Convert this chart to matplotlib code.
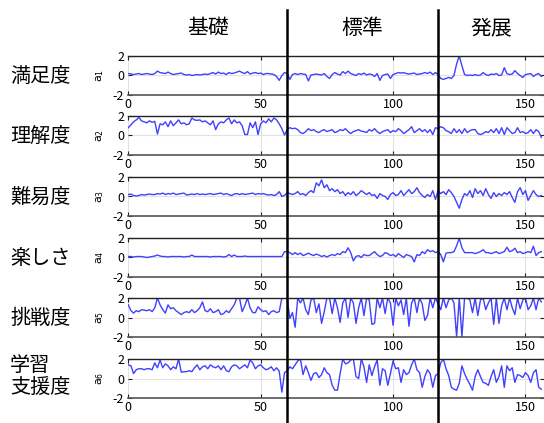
import numpy as np
import matplotlib
matplotlib.use("Agg")
import matplotlib.pyplot as plt
from matplotlib.lines import Line2D

plt.rcParams['font.family'] = ['Noto Sans CJK JP', 'DejaVu Sans']
plt.rcParams['axes.unicode_minus'] = False

row_labels = ["満足度", "理解度", "難易度", "楽しさ", "挑戦度", "学習\n支援度"]
sections = ["基礎", "標準", "発展"]
section_bounds = [60, 117]
xticks = [0, 50, 100, 150]
yticks = [-2, 0, 2]

a1 = [0.20,0.15,0.10,0.15,0.20,0.10,0.15,0.20,0.15,0.10,
      0.20,0.45,0.30,0.25,0.20,0.35,0.20,0.10,0.15,0.20,
      0.25,0.10,0.05,0.10,0.00,0.05,0.10,0.05,0.10,0.15,
      0.10,0.20,0.30,0.15,0.35,0.20,0.25,0.10,0.30,0.20,
      0.25,0.35,0.45,0.30,0.20,0.40,0.15,0.25,0.30,0.20,
      0.25,0.10,0.20,0.20,0.15,0.10,-0.10,-0.50,0.00,0.30,
      0.20,-0.40,0.10,0.20,0.10,0.20,0.15,0.10,-0.55,0.05,
      0.10,0.15,0.10,0.05,0.20,-0.10,-0.30,0.10,0.30,0.15,
      0.05,0.40,0.20,0.45,0.20,0.10,0.00,0.20,0.10,0.25,
      0.05,0.15,0.10,-0.10,0.20,-0.50,0.00,0.10,0.15,-0.30,
      0.10,0.20,0.30,0.25,0.30,0.20,0.15,0.20,0.25,0.10,
      0.15,0.20,0.30,0.20,0.35,0.10,0.30,
      0.10,-0.30,-0.40,-0.30,-0.20,-0.30,0.00,1.20,2.00,1.00,
      0.10,0.00,0.05,0.00,0.10,0.00,0.05,0.30,0.10,0.00,
      0.15,0.10,0.20,0.00,0.05,0.80,0.20,0.10,0.15,0.50,
      0.20,0.00,-0.20,0.10,0.15,0.20,-0.10,0.10,0.20,-0.10]

a2 = [0.80,1.10,1.40,1.60,1.85,1.50,1.40,1.30,1.50,1.35,
      1.45,0.15,1.20,1.10,1.40,0.90,1.50,1.00,1.30,1.60,
      1.20,1.30,1.10,1.20,1.80,1.60,1.55,1.60,1.40,1.50,
      1.30,1.10,1.50,0.60,1.20,1.40,1.30,1.60,1.80,1.20,
      1.60,1.30,1.40,1.00,0.10,0.10,1.30,0.80,1.40,0.10,
      1.20,1.50,1.30,1.70,1.40,1.80,1.60,1.20,0.70,0.05,
      0.60,0.80,0.70,0.75,0.60,0.30,0.20,0.40,0.70,0.50,
      0.60,0.40,0.30,0.50,0.60,0.40,0.50,0.60,0.30,0.40,
      0.60,0.50,0.70,0.40,0.20,0.40,0.50,0.60,0.45,0.40,
      0.30,0.60,0.45,0.70,0.40,0.20,0.40,0.50,0.60,0.30,
      0.50,0.40,0.70,0.50,0.20,0.40,0.60,0.90,0.30,0.50,
      0.70,0.40,0.60,0.30,0.60,0.10,0.80,
      0.70,0.90,0.80,0.50,0.40,0.20,0.70,0.30,0.60,0.20,
      0.70,0.30,0.50,0.60,0.60,0.20,0.10,0.20,0.40,0.30,
      0.60,0.30,0.70,0.20,0.80,0.10,0.80,0.50,0.20,0.30,
      0.80,0.30,0.40,0.20,0.30,0.60,0.20,0.60,0.40,-0.20]

a3 = [0.20,0.25,0.10,0.05,0.10,0.20,0.15,0.20,0.25,0.20,
      0.20,0.30,0.25,0.35,0.20,0.30,0.25,0.35,0.20,0.25,
      0.30,0.35,0.15,0.20,0.25,0.20,0.30,0.20,0.25,0.20,
      0.25,0.30,0.20,0.25,0.30,0.35,0.20,0.30,0.20,0.10,
      0.25,0.30,0.20,0.30,0.20,0.25,0.30,0.35,0.20,0.30,
      0.25,0.30,0.20,0.15,0.20,0.10,0.20,0.50,0.00,0.10,
      0.40,0.30,0.20,0.30,0.50,0.20,0.30,0.10,0.40,0.60,
      0.40,1.40,1.10,1.70,0.90,1.20,0.60,0.80,0.50,0.70,
      0.30,0.50,0.10,0.40,0.20,0.50,0.10,0.30,0.60,0.40,
      0.20,0.40,0.10,0.20,-0.20,0.30,0.10,0.00,-0.30,0.20,
      0.40,0.10,0.20,0.60,0.10,0.40,0.70,0.30,0.50,0.90,
      0.40,0.10,-0.10,0.20,0.00,0.60,-0.30,
      0.60,0.30,0.50,0.20,0.70,0.40,0.00,-0.60,-1.20,-0.30,
      0.30,0.10,0.60,-0.10,0.80,0.30,0.60,0.10,0.80,0.20,
      -0.20,0.40,0.00,0.30,0.10,0.40,0.20,0.50,-0.10,-0.60,
      0.50,0.90,0.20,0.60,-0.40,0.10,0.60,0.20,0.00,0.10]

a4 = [0.10,0.10,0.05,0.10,0.10,0.10,0.05,0.00,0.05,0.10,
      0.15,0.25,0.15,0.10,0.10,0.05,0.10,0.10,0.10,0.10,
      0.10,0.05,0.10,0.10,0.25,0.10,0.10,0.10,0.10,0.10,
      0.10,0.05,0.10,0.10,0.10,0.10,0.05,0.10,0.30,0.10,
      0.25,0.10,0.10,0.10,0.15,0.10,0.10,0.10,0.10,0.10,
      0.10,0.10,0.10,0.10,0.10,0.10,0.10,0.10,0.10,0.60,
      0.60,0.50,0.30,0.50,0.30,0.45,0.20,0.30,0.45,0.30,
      0.20,0.35,0.25,0.10,0.20,0.05,0.20,0.30,0.20,0.40,
      0.30,0.60,0.50,1.00,0.50,-0.35,0.10,0.20,0.00,0.30,
      0.20,0.20,0.40,0.60,0.30,0.10,0.20,0.50,0.40,0.20,
      0.30,0.10,0.40,0.20,0.00,0.30,0.20,0.10,-0.45,0.30,
      0.20,0.60,0.40,0.80,0.60,0.70,0.50,
      0.60,0.30,-0.45,0.45,0.50,0.50,0.60,1.20,2.00,1.00,
      0.50,0.50,0.50,0.50,0.40,0.50,0.60,0.80,0.50,0.50,
      0.40,0.50,0.60,0.40,0.50,0.60,1.05,0.60,0.70,0.95,
      0.50,0.60,0.40,0.50,0.60,0.50,1.15,0.20,0.50,0.60]

a5 = [1.30,0.70,0.45,0.70,0.60,0.80,0.75,0.70,0.80,0.60,
      1.00,2.00,1.30,0.80,0.45,1.30,0.90,1.00,0.70,0.50,
      0.30,0.50,0.60,0.50,0.80,0.50,0.70,1.00,1.60,0.70,
      0.60,0.90,0.50,0.60,0.80,0.30,0.40,0.70,0.50,0.90,
      1.30,2.00,2.00,0.60,1.20,2.00,1.00,0.50,0.50,1.10,
      0.80,0.60,0.70,0.30,0.60,0.70,0.50,0.60,2.00,2.00,
      2.00,-0.10,0.50,-1.00,2.00,1.50,2.00,0.80,0.30,1.80,
      2.00,0.50,1.40,-0.60,0.60,2.00,2.00,0.40,2.00,1.00,
      -0.50,1.50,2.00,0.00,2.00,1.50,-0.60,1.00,2.00,0.20,
      2.00,1.80,-0.70,-0.60,2.00,1.00,2.00,0.40,2.00,1.50,
      -0.80,2.00,1.20,1.80,0.30,2.00,-0.90,1.50,2.00,0.50,
      2.00,1.40,-0.30,0.20,2.00,1.00,2.00,
      1.40,0.80,2.00,1.00,1.80,2.00,1.50,-2.00,2.00,-2.00,
      2.00,2.00,1.80,0.50,2.00,0.20,1.80,2.00,0.80,1.50,
      2.00,-0.70,2.00,-0.60,1.20,2.00,0.80,2.00,1.00,0.30,
      2.00,0.90,1.80,2.00,0.80,1.20,2.00,0.80,2.00,1.60]

a6 = [1.40,1.30,0.50,0.90,1.00,1.00,0.90,1.00,1.00,0.90,
      1.60,1.10,1.90,1.10,1.50,1.30,0.90,1.20,1.00,2.00,
      0.65,0.70,0.70,0.80,0.70,1.10,1.40,0.90,1.20,1.30,
      1.00,1.40,1.20,1.10,1.30,0.90,1.30,0.80,0.70,1.20,
      1.40,1.30,1.00,1.20,1.40,1.10,1.90,1.60,1.00,1.30,
      1.40,1.10,0.90,1.00,1.20,0.80,1.10,0.75,-1.40,0.60,
      0.80,1.20,1.00,1.40,1.80,2.00,0.40,1.30,0.60,-0.20,
      0.50,0.60,0.10,0.40,1.10,0.60,0.40,-0.70,-1.20,-1.20,
      0.50,2.00,1.50,1.60,1.90,2.00,0.20,0.00,2.00,1.20,
      -0.40,1.40,0.30,1.20,1.90,-0.70,1.00,0.80,-0.70,0.50,
      1.80,1.00,1.10,-0.40,0.90,0.40,0.60,1.40,2.00,0.90,
      0.60,-0.90,0.20,0.90,0.50,-0.90,0.30,
      0.50,1.60,2.00,1.00,0.30,-0.90,-1.10,-1.20,-0.50,1.30,
      0.50,-0.10,-0.60,-1.20,0.20,0.90,0.20,-0.40,-0.50,-0.70,
      0.20,0.90,-0.40,0.20,1.30,-0.90,1.30,0.80,1.10,-0.40,
      0.40,0.30,0.10,0.60,0.30,-0.40,0.60,0.90,-0.90,-1.10]

series = [a1, a2, a3, a4, a5, a6]

W, H = 544, 423
fig = plt.figure(figsize=(W / 100, H / 100), dpi=100)

left_px = 128.3
tops_px = [56, 116, 177, 238, 298, 359]
h_px = 39
axes = []
for i, (y, lab) in enumerate(zip(series, row_labels)):
    top = tops_px[i]
    ax = fig.add_axes([left_px / W, 1 - (top + h_px) / H, (W - left_px) / W, h_px / H])
    x = np.arange(len(y))
    ax.plot(x, y, color='#4040ff', lw=1.0, clip_on=True)
    ax.set_xlim(0, 157)
    ax.set_ylim(-2, 2)
    ax.set_xticks(xticks)
    ax.set_yticks(yticks)
    ax.grid(True, color='#e2e2e2', lw=0.8)
    ax.set_axisbelow(True)
    for s in ['left', 'right']:
        ax.spines[s].set_visible(False)
    ax.spines['top'].set_color('#222222')
    ax.spines['bottom'].set_color('#555555')
    ax.spines['top'].set_linewidth(1.0)
    ax.spines['bottom'].set_linewidth(1.2)
    ax.tick_params(axis='x', direction='in', top=True, bottom=True, length=3,
                   labelsize=9, pad=2, color='#222222')
    ax.tick_params(axis='y', direction='in', left=True, right=True, length=3,
                   labelsize=9, pad=3, color='#222222')
    ax.set_ylabel(f"a$_{i+1}$", fontsize=8, labelpad=5, family='DejaVu Sans')
    if "\n" in lab:
        fig.text(10 / W, 1 - (top + h_px / 2 - 2) / H, lab, fontsize=14.5,
                 ha='left', va='center', linespacing=1.05)
    else:
        fig.text(10 / W, 1 - (top + h_px / 2 + 1) / H, lab, fontsize=14.5,
                 ha='left', va='center')
    axes.append(ax)

fig.canvas.draw()
inv = fig.transFigure.inverted()
xs_fig = []
for b in section_bounds:
    xf = inv.transform(axes[0].transData.transform((b, 0)))[0]
    xs_fig.append(xf)
    fig.add_artist(Line2D([xf, xf], [0, 1 - 10 / H], color='black', lw=1.8,
                          transform=fig.transFigure, zorder=10))

edges = [inv.transform(axes[0].transData.transform((0, 0)))[0]] + xs_fig + [1.0]
for k, name in enumerate(sections):
    cx = (edges[k] + edges[k + 1]) / 2
    fig.text(cx, 1 - 28 / H, name, fontsize=15, ha='center', va='center')

fig.savefig("out.png", dpi=100)
